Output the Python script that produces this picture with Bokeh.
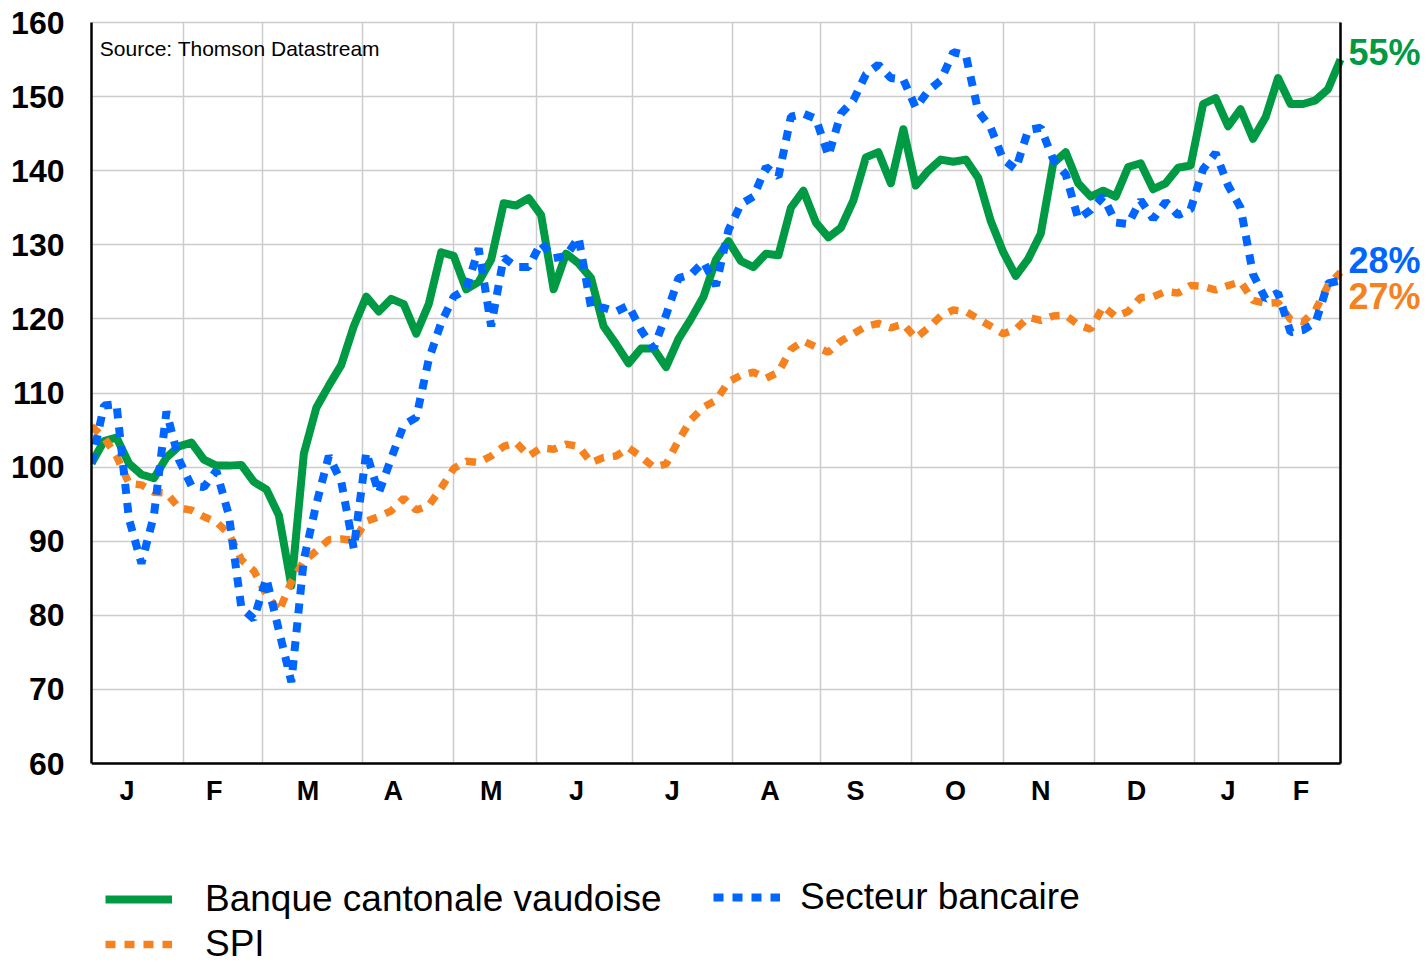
from bokeh.plotting import figure
from bokeh.models import Range1d, FixedTicker, Legend, LegendItem, Label, LinearAxis
from bokeh.embed import file_html
from bokeh.resources import INLINE

# ---- data (one point every 3 trading days) ----
bcv = [100.5, 103.5, 104, 100.5, 99, 98.5, 101.3, 102.8, 103.3, 101,
       100.2, 100.2, 100.3, 98, 97, 93.5, 84, 101.8, 108, 111,
       113.8, 119, 123, 121, 122.7, 122, 118, 122, 129, 128.5,
       124, 125, 128, 135.6, 135.3, 136.3, 134, 124, 128.8, 127.5,
       125.5, 119, 116.6, 114, 116, 116, 113.5, 117.3, 120, 123,
       128, 130.5, 127.8, 127, 128.8, 128.6, 135, 137.3, 133, 131,
       132.3, 136, 141.8, 142.5, 138.3, 145.6, 138, 140, 141.5, 141.2,
       141.5, 139, 133.2, 129, 125.8, 128.1, 131.5, 141, 142.5, 138.3,
       136.5, 137.3, 136.5, 140.5, 141, 137.5, 138.3, 140.4, 140.7, 149,
       149.8, 146, 148.3, 144.3, 147.2, 152.5, 149, 149, 149.5, 151,
       155]

banks = [100.5, 108.3, 108.5, 93, 87, 93.5, 107.5, 101, 97.5, 97.3,
         99.5, 93.5, 81, 79.5, 85, 78, 71, 87.5, 95, 101.5,
         98, 89, 102, 96.5, 101.2, 105.7, 106.7, 114.5, 119.5, 123,
         124, 129.5, 119, 128.3, 127, 127, 130.3, 128.2, 128.5, 131,
         121.5, 121.5, 121, 121.8, 118.5, 116, 120.5, 125.5, 126, 127.7,
         124.5, 132, 135.5, 136.5, 140.5, 139.2, 147.3, 147.7, 147, 142,
         147.7, 149.5, 153, 154.3, 152.5, 152.3, 148.5, 150.8, 152.2, 156,
         155.6, 148, 145.8, 141.5, 140.2, 145.5, 145.8, 141.5, 139.5, 133.5,
         134.7, 136.5, 133, 132.8, 136, 133.5, 135.8, 134, 134.8, 140.2,
         142.4, 138, 135, 126, 122.7, 123.5, 118.2, 118.5, 119.5, 124.8,
         125.2]

spi = [105.5, 104, 101.5, 97.8, 97.6, 96.6, 96.5, 94.5, 94.2, 93.3,
       92.6, 91, 87.5, 86, 82.8, 80.5, 84.5, 87.3, 88.7, 90.2,
       90.3, 90.1, 92.7, 93.3, 94.1, 95.8, 94.2, 94.8, 97.2, 99.8,
       100.8, 100.6, 101.5, 102.8, 103.3, 101.5, 102.6, 102.4, 103.1, 102.8,
       100.6, 101.3, 101.5, 102.6, 101.4, 100, 100.4, 103.6, 106.4, 108.1,
       109, 111.5, 112.4, 112.8, 112, 112.8, 115.9, 117, 116.2, 115.5,
       117, 118, 119, 119.4, 118.8, 119.3, 117.4, 118.8, 120.4, 121.2,
       121, 120, 119, 118, 118.6, 120.2, 119.8, 120.4, 120.5, 119.2,
       118.6, 121.7, 120.3, 121, 122.9, 123, 123.7, 123.5, 124.5, 124.4,
       123.9, 124.5, 125, 122.5, 122.1, 122.2, 119.9, 119.6, 121.2, 124.5,
       126.3]

days = list(range(0, 301, 3))  # trading-day index

month_starts = [0, 22, 41, 65, 87, 107, 130, 154, 175, 197, 219, 241, 265, 285, 300]
month_label_pos = [8.5, 29.5, 52, 72.5, 96, 116.5, 139.5, 163, 183.5, 207.5, 228, 251, 273, 290.5]
month_labels = ["J", "F", "M", "A", "M", "J", "J", "A", "S", "O", "N", "D", "J", "F"]
y_ticks = [60, 70, 80, 90, 100, 110, 120, 130, 140, 150, 160]
series_names = ["Banque cantonale vaudoise", "Secteur bancaire", "SPI"]
end_labels = ["55%", "28%", "27%"]
source_note = "Source: Thomson Datastream"

GREEN = "#009a44"
BLUE = "#0066ff"
ORANGE = "#f5821f"
FONT = "Liberation Sans"

# ---- layout: the frame also holds the right-hand labels and the legend ----
W, H = 1427, 965
LEFT, TOP = 91, 20
X0, X1 = 0, 300          # data extent in days
Y0, Y1 = 60, 160         # data extent in index points
px_per_day = 1249 / (X1 - X0)
px_per_unit = 741 / (Y1 - Y0)
x_end = X0 + (W - LEFT) / px_per_day
y_top = Y1 + 2 / px_per_unit
y_start = y_top - (H - TOP) / px_per_unit

p = figure(width=W, height=H, output_backend="svg", toolbar_location=None,
           x_range=Range1d(X0, x_end), y_range=Range1d(y_start, y_top),
           min_border_left=LEFT, min_border_right=0, min_border_top=TOP, min_border_bottom=0)
p.outline_line_color = None
p.background_fill_color = "white"
p.border_fill_color = "white"

# y axis
p.yaxis.ticker = FixedTicker(ticks=y_ticks)
p.yaxis.bounds = (Y0, Y1)
p.yaxis.major_label_text_font = FONT
p.yaxis.major_label_text_font_style = "bold"
p.yaxis.major_label_text_font_size = "32px"
p.yaxis.major_label_text_color = "black"
p.yaxis.major_label_standoff = 21
p.yaxis.major_tick_line_color = None
p.yaxis.minor_tick_line_color = None
p.yaxis.axis_line_color = "black"
p.yaxis.axis_line_width = 2.5

# x axis (months) fixed at the bottom of the data area
p.xaxis.fixed_location = Y0
p.xaxis.bounds = (X0, X1)
p.xaxis.ticker = FixedTicker(ticks=month_label_pos)
p.xaxis.major_label_overrides = {float(k): v for k, v in zip(month_label_pos, month_labels)}
p.xaxis.major_label_text_font = FONT
p.xaxis.major_label_text_font_style = "bold"
p.xaxis.major_label_text_font_size = "27px"
p.xaxis.major_label_text_color = "black"
p.xaxis.major_label_standoff = 6
p.xaxis.major_tick_line_color = None
p.xaxis.minor_tick_line_color = None
p.xaxis.axis_line_color = "black"
p.xaxis.axis_line_width = 2.5

# right border line
right_axis = LinearAxis(fixed_location=X1, bounds=(Y0, Y1), ticker=FixedTicker(ticks=[]),
                        major_tick_line_color=None, minor_tick_line_color=None,
                        axis_line_color="black", axis_line_width=2.5)
p.add_layout(right_axis, "right")

# grids
p.xgrid.ticker = FixedTicker(ticks=month_starts)
p.xgrid.cross_bounds = (Y0, Y1)
p.xgrid.grid_line_color = "#cccccc"
p.xgrid.grid_line_width = 1.5
p.ygrid.ticker = FixedTicker(ticks=y_ticks)
p.ygrid.cross_bounds = (X0, X1)
p.ygrid.grid_line_color = "#cccccc"
p.ygrid.grid_line_width = 1.5

# series
r_bcv = p.line(days, bcv, line_color=GREEN, line_width=8, line_join="round")
r_spi = p.line(days, spi, line_color=ORANGE, line_width=7.5, line_dash="10 9")
r_banks = p.line(days, banks, line_color=BLUE, line_width=8, line_dash="10 9")

# end labels
for txt, last, col, dy in [(end_labels[0], bcv[-1], GREEN, 7),
                           (end_labels[1], banks[-1], BLUE, 20),
                           (end_labels[2], spi[-1], ORANGE, -24)]:
    p.add_layout(Label(x=X1, y=last, x_offset=8, y_offset=dy, text=txt,
                       text_color=col, text_font=FONT, text_font_style="bold",
                       text_font_size="36px", text_baseline="middle", text_align="left"))

p.add_layout(Label(x=2, y=156.5, text=source_note, text_font=FONT,
                   text_font_size="21px", text_color="black", text_baseline="middle"))

# legends
common = dict(glyph_width=67, glyph_height=40, label_height=40,
              spacing=3, padding=0, margin=0, border_line_color=None,
              background_fill_alpha=0, label_text_font=FONT,
              label_text_font_size="37px", label_text_baseline="middle",
              label_text_color="black")
leg1 = Legend(items=[LegendItem(label=series_names[0], renderers=[r_bcv]),
                     LegendItem(label=series_names[2], renderers=[r_spi])],
              location=(14, 0), label_standoff=33, **common)
leg2 = Legend(items=[LegendItem(label=series_names[1], renderers=[r_banks])],
              location=(622, 47), label_standoff=20, **common)
p.add_layout(leg1, "center")
p.add_layout(leg2, "center")

open("out.html", "w").write(file_html(p, INLINE))
